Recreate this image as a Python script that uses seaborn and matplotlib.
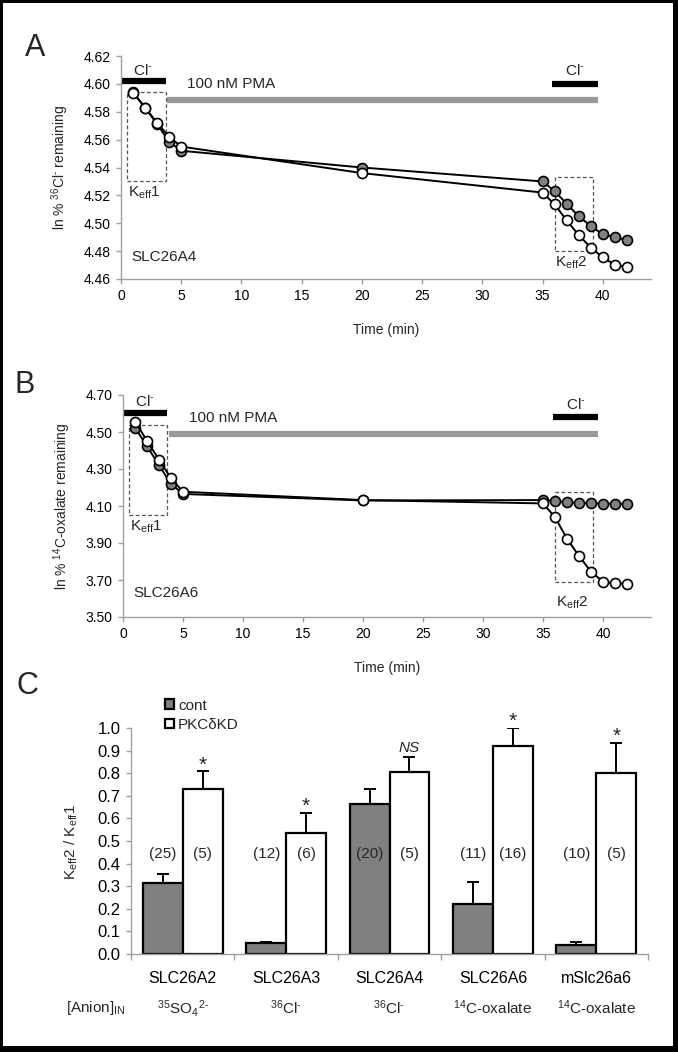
import numpy as np
import pandas as pd
import matplotlib
matplotlib.use("Agg")
import matplotlib.pyplot as plt
import matplotlib.transforms as mtransforms
from matplotlib.patches import Rectangle
from matplotlib.container import BarContainer
import seaborn as sns

sns.set_theme(style="white")
plt.rcParams["font.family"] = ["Liberation Sans", "DejaVu Sans"]
plt.rcParams["mathtext.fontset"] = "custom"
plt.rcParams["mathtext.rm"] = "Liberation Sans"
plt.rcParams["mathtext.it"] = "Liberation Sans:italic"
plt.rcParams["mathtext.bf"] = "Liberation Sans:bold"
plt.rcParams["mathtext.sf"] = "Liberation Sans"

# ---------------- data ----------------
time_min = [1, 2, 3, 4, 5, 20, 35, 36, 37, 38, 39, 40, 41, 42]

# Panel A: SLC26A4, ln % 36Cl- remaining
a4_cont = [4.594, 4.583, 4.571, 4.5586, 4.552, 4.540, 4.530, 4.523, 4.514,
           4.505, 4.498, 4.492, 4.490, 4.488]
a4_pkckd = [4.5937, 4.583, 4.572, 4.562, 4.555, 4.536, 4.522, 4.5135, 4.502,
            4.4915, 4.4825, 4.4755, 4.4703, 4.4684]

# Panel B: SLC26A6, ln % 14C-oxalate remaining
a6_cont = [4.523, 4.424, 4.320, 4.220, 4.165, 4.130, 4.132, 4.126, 4.120,
           4.117, 4.115, 4.113, 4.112, 4.112]
a6_pkckd = [4.556, 4.453, 4.350, 4.250, 4.177, 4.132, 4.114, 4.040, 3.923,
            3.830, 3.745, 3.691, 3.682, 3.679]

# treatment periods (min)
cl_period1 = (0.0, 3.7)
pma_period = (3.8, 39.6)
cl_period2 = (35.8, 39.6)
keff1_window = (0.5, 3.7)
keff2_window = (36.0, 39.2)

# Panel C
genes = ["SLC26A2", "SLC26A3", "SLC26A4", "SLC26A6", "mSlc26a6"]
anions = [r"$^{35}$SO$_{4}$$^{2\text{-}}$", r"$^{36}$Cl$^{\text{-}}$",
          r"$^{36}$Cl$^{\text{-}}$", r"$^{14}$C-oxalate", r"$^{14}$C-oxalate"]
cont_mean = [0.316, 0.048, 0.663, 0.220, 0.038]
cont_sem = [0.037, 0.004, 0.068, 0.099, 0.016]
pkc_mean = [0.730, 0.535, 0.804, 0.919, 0.799]
pkc_sem = [0.078, 0.090, 0.069, 0.082, 0.134]
cont_n = [25, 12, 20, 11, 10]
pkc_n = [5, 6, 5, 16, 5]
signif = ["*", "*", "NS", "*", "*"]
groups = ["cont", "PKCδKD"]

GRAY = "#808080"
SPINE = "#a0a0a0"
CL = r"Cl$^{\text{-}}$"

fig = plt.figure(figsize=(6.78, 10.52), dpi=100)
W, H = 678.0, 1052.0


def px_axes(l, t, r, b):
    return fig.add_axes([l / W, 1 - b / H, (r - l) / W, (b - t) / H])


def style_axes(ax, labelsize):
    for s in ["top", "right"]:
        ax.spines[s].set_visible(False)
    for s in ["left", "bottom"]:
        ax.spines[s].set_color(SPINE)
        ax.spines[s].set_linewidth(1.0)
    ax.tick_params(axis="both", which="both", direction="out", length=3.5,
                   width=1.0, color=SPINE, labelcolor="black",
                   labelsize=labelsize, left=True, bottom=True, pad=4)
    ax.grid(False)
    ax.set_facecolor("white")


def time_panel(ax, cont, kd, ylim, yticks, cl1_y, pma_y, cl2_y, cltext1_y,
               cltext2_y, pmatext_y, box1, box2, k1_y, k2_y, name, name_y, ylabel,
               ylab_x):
    style_axes(ax, 10)
    common = dict(color="black", linewidth=1.4, marker="o", markersize=7.2,
                  markeredgecolor="black", markeredgewidth=1.2)
    sns.lineplot(x=time_min, y=cont, ax=ax, markerfacecolor=GRAY, zorder=3, **common)
    sns.lineplot(x=time_min, y=kd, ax=ax, markerfacecolor="white", zorder=4, **common)
    ax.set_xlim(0, 44)
    ax.set_ylim(*ylim)
    ax.set_xticks(np.arange(0, 45, 5))
    ax.set_yticks(yticks)
    ax.yaxis.set_major_formatter(matplotlib.ticker.FormatStrFormatter("%.2f"))
    ax.hlines(cl1_y, *cl_period1, color="black", linewidth=4.5)
    ax.hlines(pma_y, *pma_period, color="#999999", linewidth=4.5)
    ax.hlines(cl2_y, *cl_period2, color="black", linewidth=4.5)
    ax.text(1.8, cltext1_y, CL, ha="center", va="center", fontsize=11)
    ax.text(37.7, cltext2_y, CL, ha="center", va="center", fontsize=11)
    ax.text(5.5, pmatext_y, "100 nM PMA", ha="left", va="center", fontsize=11)
    for (x0, x1), (y0, y1) in [(keff1_window, box1), (keff2_window, box2)]:
        ax.add_patch(Rectangle((x0, y0), x1 - x0, y1 - y0, fill=False,
                               edgecolor="#555555", linewidth=0.9,
                               linestyle=(0, (3, 2)), zorder=2))
    ax.text(1.9, k1_y, r"K$_{\mathrm{eff}}$1", ha="center", va="center", fontsize=11)
    ax.text(37.4, k2_y, r"K$_{\mathrm{eff}}$2", ha="center", va="center", fontsize=11)
    ax.text(0.9, name_y, name, ha="left", va="center", fontsize=11)
    ax.set_xlabel("Time (min)", fontsize=10)
    ax.xaxis.set_label_coords(0.5, -0.197)
    ax.set_ylabel(ylabel, fontsize=10)
    ax.yaxis.set_label_coords(ylab_x, 0.5)


# ---- Panel A ----
axA = px_axes(121, 56, 651, 279)
time_panel(axA, a4_cont, a4_pkckd, (4.46, 4.62), np.arange(4.46, 4.625, 0.02),
           4.602, 4.5885, 4.600, 4.6093, 4.6093, 4.600,
           (4.530, 4.594), (4.480, 4.533), 4.522, 4.4715, "SLC26A4", 4.476,
           r"ln % $^{36}$Cl$^{\text{-}}$ remaining", -0.094)

# ---- Panel B ----
axB = px_axes(123, 395, 651, 617)
time_panel(axB, a6_cont, a6_pkckd, (3.50, 4.70), np.arange(3.50, 4.71, 0.20),
           4.601, 4.491, 4.583, 4.664, 4.646, 4.574,
           (4.051, 4.538), (3.691, 4.174), 3.988, 3.576, "SLC26A6", 3.63,
           r"ln % $^{14}$C-oxalate remaining", -0.094)

# ---- Panel C ----
axC = px_axes(131, 728, 648, 954)
style_axes(axC, 12)
df = pd.DataFrame({
    "gene": genes * 2,
    "group": [groups[0]] * len(genes) + [groups[1]] * len(genes),
    "value": cont_mean + pkc_mean,
})
sns.barplot(data=df, x="gene", y="value", hue="group", order=genes,
            hue_order=groups, palette={groups[0]: GRAY, groups[1]: "white"},
            saturation=1, edgecolor="black", linewidth=1.6, width=0.77,
            errorbar=None, ax=axC)
means = [cont_mean, pkc_mean]
sems = [cont_sem, pkc_sem]
ns = [cont_n, pkc_n]
bar_containers = [c for c in axC.containers if isinstance(c, BarContainer)]
for gi, cont in enumerate(bar_containers):
    xs = np.array([r.get_x() + r.get_width() / 2 for r in cont.patches])
    m = np.array(means[gi])
    e = np.array(sems[gi])
    axC.errorbar(xs, m, yerr=[np.zeros_like(e), e], fmt="none", ecolor="black",
                 elinewidth=1.4, capsize=4.5, capthick=1.4, zorder=5)
    for x, n in zip(xs, ns[gi]):
        axC.text(x, 0.443, f"({n})", ha="center", va="center", fontsize=11)
    if gi == 1:
        for x, top, s in zip(xs, m + e, signif):
            if s == "NS":
                axC.text(x, top + 0.022, s, ha="center", va="baseline",
                         fontsize=11, style="italic")
            else:
                axC.text(x, top + 0.004, s, ha="center", va="baseline", fontsize=15)

axC.set_xlim(-0.5, len(genes) - 0.5)
axC.set_ylim(0, 1.0)
axC.set_yticks(np.arange(0, 1.01, 0.1))
axC.yaxis.set_major_formatter(matplotlib.ticker.FormatStrFormatter("%.1f"))
axC.set_xticks(range(len(genes)))
axC.set_xticklabels(genes, fontsize=11.5)
axC.set_xticks(np.arange(-0.5, len(genes), 1.0), minor=True)
axC.tick_params(axis="x", which="major", length=0, pad=12)
axC.tick_params(axis="x", which="minor", length=4, color=SPINE, width=1.0)
axC.set_xlabel("")
axC.set_ylabel(r"K$_{\mathrm{eff}}$2 / K$_{\mathrm{eff}}$1", fontsize=11)
axC.yaxis.set_label_coords(-0.099, 0.496)

handles, labels = axC.get_legend_handles_labels()
if axC.get_legend() is not None:
    axC.get_legend().remove()
axC.legend(handles, labels, loc="upper left", bbox_to_anchor=(0.066, 1.13),
           frameon=False, fontsize=11, handlelength=0.6, handleheight=0.6,
           handletextpad=0.25, labelspacing=0.35, borderpad=0, borderaxespad=0)

trans = mtransforms.blended_transform_factory(axC.transData, axC.transAxes)
for i, a in enumerate(anions):
    axC.text(i, -0.239, a, transform=trans, ha="center", va="center", fontsize=11)
axC.text(-0.84, -0.239, r"[Anion]$_{\mathrm{IN}}$", transform=trans,
         ha="center", va="center", fontsize=11)

# panel letters
for letter, (x, y) in zip("ABC", [(35, 48), (25, 385), (27, 686)]):
    fig.text(x / W, 1 - y / H, letter, ha="center", va="center", fontsize=22)

# figure frame
for (x0, y0, w, h) in [(0, 0, 3, H), (0, 0, W, 3), (W - 5, 0, 5, H), (0, H - 6, W, 6)]:
    fig.patches.append(Rectangle((x0 / W, 1 - (y0 + h) / H), w / W, h / H,
                                 transform=fig.transFigure, facecolor="black",
                                 edgecolor="none", zorder=10))

fig.savefig("out.png", dpi=100, facecolor="white")
